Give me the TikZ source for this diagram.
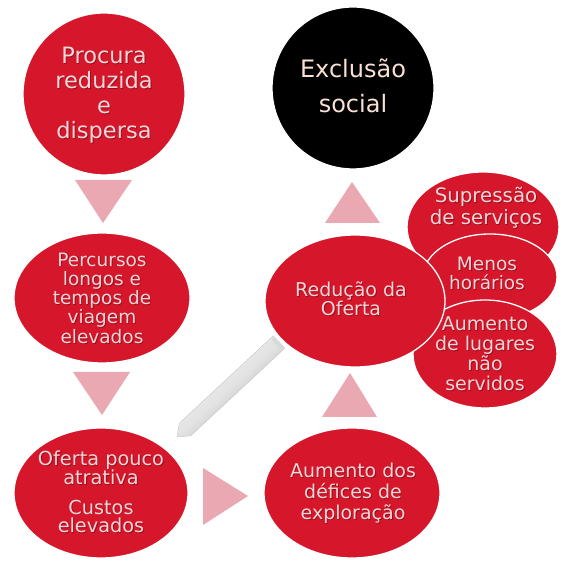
\documentclass[tikz,border=0pt]{standalone}
\usepackage{fontspec}
\setmainfont{DejaVu Sans}
\usetikzlibrary{shapes.geometric,calc}

\definecolor{bubble}{RGB}{214,22,42}
\definecolor{chevron}{RGB}{234,168,178}
\definecolor{ink}{RGB}{246,214,216}
\definecolor{inkshade}{RGB}{105,8,18}
\definecolor{paleink}{RGB}{248,224,212}

\tikzset{
  blob/.style={ellipse, fill=bubble, draw=white, line width=1.3pt, inner sep=0pt},
  disc/.style={circle, fill=bubble, draw=white, line width=1.3pt, inner sep=0pt, minimum size=162pt},
  words/.style={align=center, text=ink, inner sep=0pt},
  chev/.style={fill=chevron},
}

% text with a soft drop shadow underneath
\newcommand\shadedwords[4]{%
  \node[words,#3,text=inkshade,opacity=.55] at ($(#2)+(0.9,-0.9)$) {#4};
  \node[words,#3] (#1) at (#2) {#4};}

\begin{document}
\begin{tikzpicture}[x=1pt,y=1pt]
  \useasboundingbox (0,0) rectangle (560,561);
  \fill[white] (0,0) rectangle (560,561);

  % main chain
  \node[disc] (procura) at (104,467) {};
  \node[blob, minimum width=176pt, minimum height=130pt] (percursos) at (102,263) {};
  \node[blob, minimum width=174pt, minimum height=130pt] (oferta) at (101,68) {};
  \node[blob, minimum width=176pt, minimum height=130pt] (defices) at (352,68) {};

  % consequences of the reduced service
  \node[blob, minimum width=152pt, minimum height=110pt] (supressao) at (483,334) {};
  \node[blob, minimum width=134pt, minimum height=86pt] (horarios) at (490,284) {};
  \node[blob, minimum width=144pt, minimum height=108pt] (lugares) at (485,207) {};
  \node[blob, minimum width=180pt, minimum height=132pt] (reducao) at (355,260) {};

  \node[disc, fill=black, draw=white] (exclusao) at (353,473) {};

  % labels
  \shadedwords{procuraT}{104,466}{font=\fontsize{22.5}{25}\selectfont}
    {Procura\\reduzida\\e\\dispersa}
  \shadedwords{percursosT}{102,263}{font=\fontsize{18.5}{19.3}\selectfont}
    {Percursos\\longos e\\tempos de\\viagem\\elevados}
  \shadedwords{ofertaT}{101,69}{font=\fontsize{19.3}{18.7}\selectfont}
    {Oferta pouco\\atrativa\\[11pt]Custos\\elevados}
  \shadedwords{deficesT}{353,68}{font=\fontsize{19}{21}\selectfont}
    {Aumento dos\\défices de\\exploração}
  \shadedwords{reducaoT}{351,262}{font=\fontsize{19}{19.5}\selectfont}
    {Redução da\\Oferta}
  \shadedwords{supressaoT}{486,353}{font=\fontsize{19.8}{22}\selectfont}
    {Supressão\\de serviços}
  \shadedwords{horariosT}{487,288}{font=\fontsize{18.5}{19}\selectfont}
    {Menos\\horários}
  \shadedwords{lugaresT}{485,207}{font=\fontsize{19}{20}\selectfont}
    {Aumento\\de lugares\\não\\servidos}
  \node[words, text=paleink, font=\fontsize{24}{35}\selectfont] (exclusaoT) at (353,475)
    {Exclusão\\social};

  % flow chevrons
  \fill[chev] (75,381) -- (132,381) -- (103,338) -- cycle;
  \fill[chev] (73,189) -- (130,189) -- (102,146) -- cycle;
  \fill[chev] (203,93) -- (203,36) -- (248,65) -- cycle;
  \fill[chev] (322,144) -- (377,144) -- (350,188) -- cycle;
  \fill[chev] (325,338) -- (380,338) -- (352,379) -- cycle;

  % feedback pointer from the reduced service back to the unattractive offer
  \coordinate (tip) at (177,124);
  \coordinate (tail) at (279,219);
  \path[draw=gray!45, line width=.4pt, top color=gray!8, bottom color=gray!72,
        middle color=gray!22, shading angle=43]
    (tip)
    -- ($(tip)!11pt!(tail)!8.5pt!90:(tail)$)
    -- ($(tail)!8.5pt!-90:(tip)$)
    -- ($(tail)!8.5pt!90:(tip)$)
    -- ($(tip)!11pt!(tail)!8.5pt!-90:(tail)$)
    -- cycle;
  % bevelled end face
  \fill[gray!30] ($(tail)!8.5pt!-90:(tip)$) -- ($(tail)!8.5pt!90:(tip)$)
    -- ($(tail)!4pt!(tip)!6pt!90:(tip)$) -- ($(tail)!4pt!(tip)!6pt!-90:(tip)$) -- cycle;
\end{tikzpicture}
\end{document}
